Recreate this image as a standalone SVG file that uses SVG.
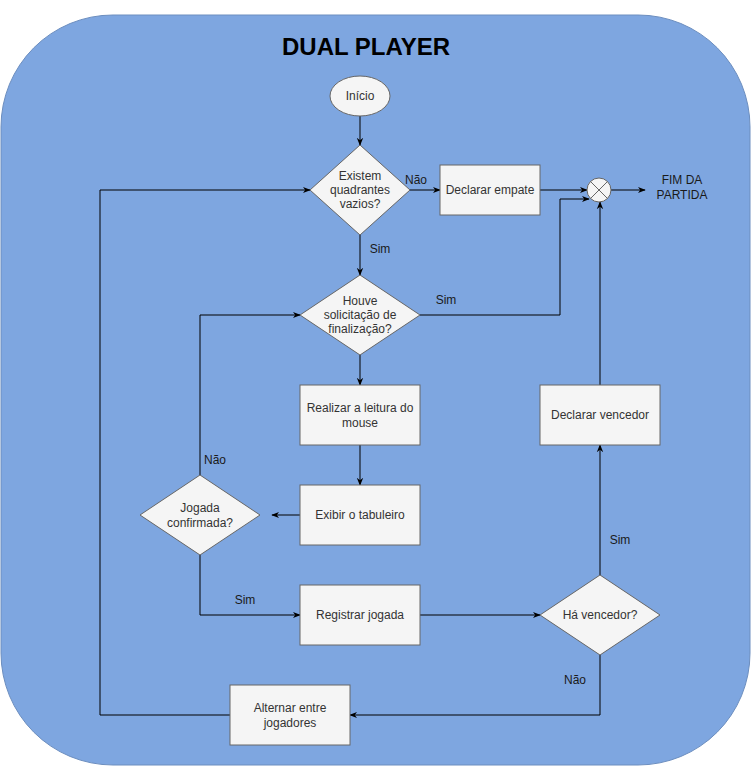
<svg xmlns="http://www.w3.org/2000/svg" width="752" height="766" viewBox="0 0 752 766">
<style>
.n{fill:#f5f5f5;stroke:#666666;stroke-width:1}
.t{font-family:"Liberation Sans",Arial,sans-serif;font-size:12px;fill:#333333;text-anchor:middle}
.l{font-family:"Liberation Sans",Arial,sans-serif;font-size:12px;fill:#1a1a1a;text-anchor:middle}
.c{fill:none;stroke:#000000;stroke-width:1}
</style>
<defs>
<marker id="a" viewBox="0 0 10 10" refX="9" refY="5" markerWidth="8" markerHeight="8" orient="auto" markerUnits="userSpaceOnUse">
<path d="M0,1 L10,5 L0,9 L3,5 Z" fill="#000"/>
</marker>
</defs>
<rect id="bg" x="1" y="15" width="749" height="750" rx="112" ry="112" fill="#7ea6e0" stroke="#6c8ebf"/>
<text x="366" y="55" font-family="'Liberation Sans',Arial,sans-serif" font-size="24" font-weight="bold" text-anchor="middle" fill="#000">DUAL PLAYER</text>
<g id="connectors">
<path class="c" d="M360,116 L360,145" marker-end="url(#a)"/>
<path class="c" d="M410,190 L440,190" marker-end="url(#a)"/>
<path class="c" d="M540,190 L587,190" marker-end="url(#a)"/>
<path class="c" d="M360,235 L360,275" marker-end="url(#a)"/>
<path class="c" d="M420,315 L560,315 L560,199 L589,199" marker-end="url(#a)"/>
<path class="c" d="M360,355 L360,385" marker-end="url(#a)"/>
<path class="c" d="M360,445 L360,485" marker-end="url(#a)"/>
<path class="c" d="M300,515 L272,515" marker-end="url(#a)"/>
<path class="c" d="M200,475 L200,315 L300,315" marker-end="url(#a)"/>
<path class="c" d="M200,555 L200,615 L300,615" marker-end="url(#a)"/>
<path class="c" d="M420,615 L540,615" marker-end="url(#a)"/>
<path class="c" d="M600,575 L600,445" marker-end="url(#a)"/>
<path class="c" d="M600,385 L600,202" marker-end="url(#a)"/>
<path class="c" d="M600,655 L600,715 L350,715" marker-end="url(#a)"/>
<path class="c" d="M230,715 L100,715 L100,190 L310,190" marker-end="url(#a)"/>
<path class="c" d="M611,190 L645,190" marker-end="url(#a)"/>
<text class="l" x="416" y="184">Não</text>
<text class="l" x="380" y="253">Sim</text>
<text class="l" x="446" y="304">Sim</text>
<text class="l" x="215" y="464">Não</text>
<text class="l" x="245" y="604">Sim</text>
<text class="l" x="620" y="544">Sim</text>
<text class="l" x="575" y="684">Não</text>
</g>
<g id="inicio"><ellipse class="n" cx="360" cy="96" rx="30" ry="20"/><text class="t" x="360" y="100">Início</text></g>
<g id="d1"><path class="n" d="M360,145 L410,190 L360,235 L310,190 Z"/><text class="t" x="360" y="180">Existem</text><text class="t" x="360" y="194">quadrantes</text><text class="t" x="360" y="208">vazios?</text></g>
<g id="empate"><rect class="n" x="440" y="165" width="100" height="50"/><text class="t" x="490" y="194">Declarar empate</text></g>
<g id="fim"><circle class="n" cx="599" cy="190" r="12"/><path d="M590.5,181.5 L607.5,198.5 M607.5,181.5 L590.5,198.5" stroke="#666666" fill="none"/></g>
<g id="fimtxt"><text class="l" x="682" y="184">FIM DA</text><text class="l" x="682" y="199">PARTIDA</text></g>
<g id="d2"><path class="n" d="M360,275 L420,315 L360,355 L300,315 Z"/><text class="t" x="360" y="305">Houve</text><text class="t" x="360" y="319">solicitação de</text><text class="t" x="360" y="333">finalização?</text></g>
<g id="leitura"><rect class="n" x="300" y="385" width="120" height="60"/><text class="t" x="360" y="412">Realizar a leitura do</text><text class="t" x="360" y="427">mouse</text></g>
<g id="exibir"><rect class="n" x="300" y="485" width="120" height="60"/><text class="t" x="360" y="519">Exibir o tabuleiro</text></g>
<g id="d3"><path class="n" d="M200,475 L260,515 L200,555 L140,515 Z"/><text class="t" x="200" y="512">Jogada</text><text class="t" x="200" y="527">confirmada?</text></g>
<g id="registrar"><rect class="n" x="300" y="585" width="120" height="60"/><text class="t" x="360" y="619">Registrar jogada</text></g>
<g id="d4"><path class="n" d="M600,575 L660,615 L600,655 L540,615 Z"/><text class="t" x="600" y="619">Há vencedor?</text></g>
<g id="vencedor"><rect class="n" x="540" y="385" width="120" height="60"/><text class="t" x="600" y="419">Declarar vencedor</text></g>
<g id="alternar"><rect class="n" x="230" y="685" width="120" height="60"/><text class="t" x="290" y="712">Alternar entre</text><text class="t" x="290" y="727">jogadores</text></g>
</svg>
